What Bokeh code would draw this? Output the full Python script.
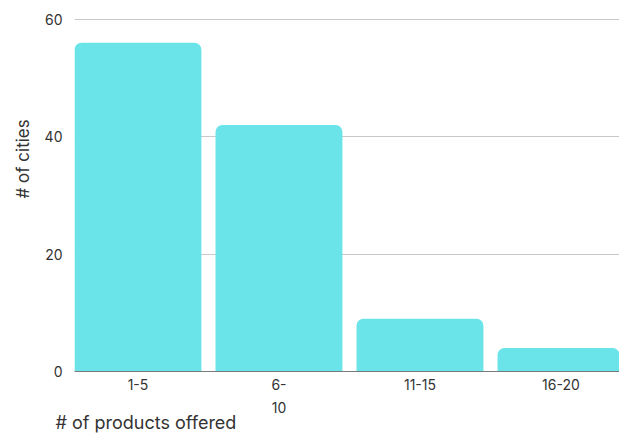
from bokeh.plotting import figure
from bokeh.models import Range1d, FixedTicker, Title, ColumnDataSource
from bokeh.embed import file_html
from bokeh.resources import INLINE

# Distribution of cities by number of products offered
categories = ["1-5", "6-10", "11-15", "16-20"]
tick_labels = ["1-5", "6-\n10", "11-15", "16-20"]
cities = [56, 42, 9, 4]

FONT = "Inter"
TEXT = "#333333"
BAR = "#6AE4E8"

positions = [i + 0.5 for i in range(len(categories))]
source = ColumnDataSource(dict(x=positions, top=cities, cat=categories))

p = figure(
    width=619, height=435,
    x_range=Range1d(0.05, 3.915), y_range=Range1d(0, 60.3),
    output_backend="svg", toolbar_location=None,
    min_border_left=74, min_border_right=0,
    min_border_top=17, min_border_bottom=64,
)
p.outline_line_color = None
p.background_fill_color = "white"
p.border_fill_color = "white"

p.vbar(x="x", top="top", bottom=0, width=0.9, source=source,
       fill_color=BAR, line_color=None, border_radius=(7, 7, 0, 0))

# x axis
p.xaxis.ticker = FixedTicker(ticks=positions)
p.xaxis.major_label_overrides = {pos: lab for pos, lab in zip(positions, tick_labels)}
p.xaxis.major_tick_line_color = None
p.xaxis.major_tick_out = 0
p.xaxis.major_tick_in = 0
p.xaxis.minor_tick_line_color = None
p.xaxis.axis_line_color = "#7a7a7a"
p.xaxis.axis_line_width = 1.2
p.xaxis.major_label_text_font = FONT
p.xaxis.major_label_text_font_size = "14px"
p.xaxis.major_label_text_color = TEXT
p.xaxis.major_label_text_line_height = 1.4
p.xaxis.major_label_standoff = 4
p.xgrid.grid_line_color = None

# y axis
p.yaxis.ticker = FixedTicker(ticks=[0, 20, 40, 60])
p.yaxis.axis_line_color = None
p.yaxis.major_tick_line_color = None
p.yaxis.major_tick_out = 0
p.yaxis.major_tick_in = 0
p.yaxis.minor_tick_line_color = None
p.yaxis.major_label_text_font = FONT
p.yaxis.major_label_text_font_size = "14px"
p.yaxis.major_label_text_color = TEXT
p.yaxis.major_label_standoff = 12
p.ygrid.grid_line_color = "#c8c8c8"
p.ygrid.grid_line_width = 1

# axis titles as side panels so they sit outside the frame
p.add_layout(Title(text="# of cities", align="left", offset=173,
                   vertical_align="top",
                   text_font=FONT, text_font_size="17px", text_color=TEXT,
                   text_font_style="normal", standoff=13), "left")
p.add_layout(Title(text="# of products offered", align="left", offset=-19,
                   vertical_align="bottom",
                   text_font=FONT, text_font_size="18px", text_color=TEXT,
                   text_font_style="normal", standoff=-19), "below")

open("out.html", "w").write(file_html(p, INLINE))
